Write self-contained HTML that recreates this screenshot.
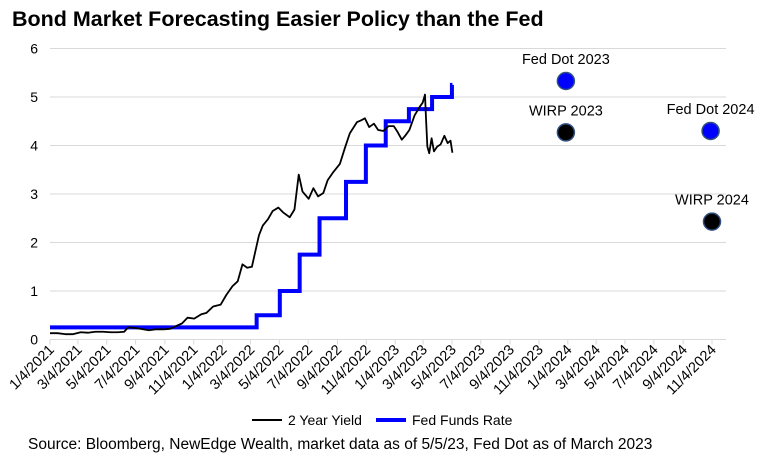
<!DOCTYPE html>
<html><head><meta charset="utf-8"><style>
body{margin:0;background:#fff;font-family:"Liberation Sans",Arial,sans-serif;}
svg text{font-family:"Liberation Sans",Arial,sans-serif;}
</style></head><body>
<svg id="chart" width="783" height="464" viewBox="0 0 783 464">
<text x="12" y="26" font-size="21.5" font-weight="bold" fill="#000">Bond Market Forecasting Easier Policy than the Fed</text>
<g id="grid"></g>
<g id="yax"></g>
<g id="xax"></g>
<g id="series"></g>
<g>
<line x1="252" y1="420" x2="282" y2="420" stroke="#000" stroke-width="2"/>
<text x="288" y="425" font-size="14">2 Year Yield</text>
<line x1="376" y1="420" x2="406" y2="420" stroke="#0000ff" stroke-width="4"/>
<text x="412" y="425" font-size="14">Fed Funds Rate</text>
</g>
<text x="28" y="449" font-size="15.5">Source: Bloomberg, NewEdge Wealth, market data as of 5/5/23, Fed Dot as of March 2023</text>
</svg>
<script>
const yTicks=[0,1,2,3,4,5,6];
const xTickLabels=["1/4/2021","3/4/2021","5/4/2021","7/4/2021","9/4/2021","11/4/2021","1/4/2022","3/4/2022","5/4/2022","7/4/2022","9/4/2022","11/4/2022","1/4/2023","3/4/2023","5/4/2023","7/4/2023","9/4/2023","11/4/2023","1/4/2024","3/4/2024","5/4/2024","7/4/2024","9/4/2024","11/4/2024"];
const yieldDates=["2021-01-04","2021-01-20","2021-02-05","2021-02-22","2021-03-10","2021-03-25","2021-04-10","2021-04-26","2021-05-12","2021-05-28","2021-06-10","2021-06-18","2021-07-01","2021-07-15","2021-08-01","2021-08-15","2021-09-01","2021-09-15","2021-09-28","2021-10-10","2021-10-22","2021-11-05","2021-11-20","2021-12-01","2021-12-15","2021-12-31","2022-01-12","2022-01-25","2022-02-05","2022-02-15","2022-02-25","2022-03-07","2022-03-15","2022-03-22","2022-03-30","2022-04-10","2022-04-20","2022-05-02","2022-05-12","2022-05-26","2022-06-05","2022-06-14","2022-06-22","2022-07-05","2022-07-15","2022-07-25","2022-08-05","2022-08-14","2022-08-26","2022-09-09","2022-09-20","2022-09-30","2022-10-15","2022-10-24","2022-11-01","2022-11-10","2022-11-20","2022-11-29","2022-12-10","2022-12-21","2023-01-01","2023-01-09","2023-01-18","2023-01-25","2023-02-03","2023-02-14","2023-02-25","2023-03-03","2023-03-08","2023-03-10","2023-03-13","2023-03-17","2023-03-22","2023-03-27","2023-04-03","2023-04-10","2023-04-18","2023-04-25","2023-05-01","2023-05-05"];
const yieldValues=[0.13,0.13,0.11,0.11,0.15,0.14,0.16,0.16,0.15,0.15,0.16,0.25,0.24,0.22,0.19,0.21,0.21,0.22,0.28,0.33,0.45,0.43,0.52,0.55,0.68,0.72,0.92,1.10,1.20,1.55,1.48,1.50,1.85,2.15,2.35,2.48,2.65,2.72,2.62,2.52,2.68,3.40,3.05,2.90,3.12,2.95,3.02,3.28,3.45,3.62,3.96,4.25,4.48,4.52,4.56,4.38,4.45,4.32,4.30,4.40,4.40,4.28,4.12,4.20,4.32,4.62,4.80,4.88,5.05,4.60,3.98,3.84,4.15,3.88,3.98,4.02,4.20,4.05,4.10,3.85];
const ffrDates=["2021-01-04","2022-03-17","2022-05-05","2022-06-16","2022-07-28","2022-09-22","2022-11-03","2022-12-15","2023-02-02","2023-03-23","2023-05-04","2023-05-05"];
const ffrValues=[0.25,0.5,1.0,1.75,2.5,3.25,4.0,4.5,4.75,5.0,5.25,5.25];
const dotLabels=["Fed Dot 2023","WIRP 2023","Fed Dot 2024","WIRP 2024"];
const dotDates=["2023-12-31","2023-12-31","2024-11-01","2024-11-04"];
const dotValues=[5.33,4.27,4.30,2.43];
const dotKinds=["fed","wirp","fed","wirp"];

const NS="http://www.w3.org/2000/svg";
const t0=Date.UTC(2021,0,4),pxPerDay=662/1400;
function X(d){const p=d.split("-");return 50+(Date.UTC(+p[0],+p[1]-1,+p[2])-t0)/864e5*pxPerDay;}
function Y(v){return 339.5-v*48.5;}
function mk(tag,attrs,parent){const e=document.createElementNS(NS,tag);for(const k in attrs)e.setAttribute(k,attrs[k]);parent.appendChild(e);return e;}
const grid=document.getElementById('grid'),yax=document.getElementById('yax'),xax=document.getElementById('xax'),ser=document.getElementById('series');
yTicks.forEach(v=>{
 if(v>0){const l=mk('line',{x1:50,x2:726,y1:Y(v),y2:Y(v),stroke:'#d9d9d9','stroke-width':1},grid);
 
 }
 const t=mk('text',{x:38,y:Y(v)+5,'font-size':14,'text-anchor':'end'},yax);t.textContent=v;
 
 
});
const ax=mk('line',{x1:50,x2:726,y1:Y(0),y2:Y(0),stroke:'#d9d9d9','stroke-width':1},xax);


xTickLabels.forEach(s=>{
 const p=s.split("/");const d=p[2]+"-"+String(p[0]).padStart(2,'0')+"-"+String(p[1]).padStart(2,'0');
 const x=X(d);
 const tk=mk('line',{x1:x,x2:x,y1:Y(0),y2:Y(0)+5,stroke:'#d9d9d9'},xax);
 
 
 const t=mk('text',{x:x+5,y:Y(0)+11,'font-size':14.5,'text-anchor':'end',transform:`rotate(-45 ${x+5} ${Y(0)+11})`},xax);t.textContent=s;
 
 
});
let d='';ffrDates.forEach((dt,i)=>{const x=X(dt),y=Y(ffrValues[i]);if(i===0)d+=`M${x},${y}`;else d+=`H${x}V${y}`;});
const ff=mk('path',{d:d,fill:'none',stroke:'#0000ff','stroke-width':4,'stroke-linejoin':'miter'},ser);


const yl=mk('polyline',{points:yieldDates.map((dt,i)=>X(dt)+','+Y(yieldValues[i])).join(' '),fill:'none',stroke:'#000','stroke-width':1.8,'stroke-linejoin':'round'},ser);


dotLabels.forEach((lab,i)=>{
 const x=X(dotDates[i]),y=Y(dotValues[i]);
 const c=mk('circle',{cx:x,cy:y,r:8.5,fill:dotKinds[i]==='fed'?'#0000ff':'#000',stroke:'#2f4f7f','stroke-width':1.5},ser);
 
 
 const t=mk('text',{x:x,y:y-17,'font-size':14.5,'text-anchor':'middle'},ser);t.textContent=lab;
 
 
});
</script>
</body></html>
